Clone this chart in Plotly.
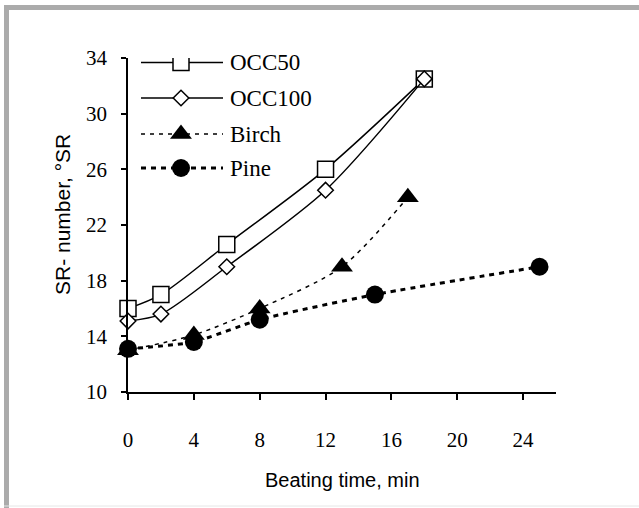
import plotly.graph_objects as go

# ---- data ----
series_names = ["OCC50", "OCC100", "Birch", "Pine"]
occ50_x = [0, 2, 6, 12, 18]
occ50_y = [16.0, 17.0, 20.6, 26.0, 32.5]
occ100_x = [0, 2, 6, 12, 18]
occ100_y = [15.1, 15.6, 19.0, 24.5, 32.5]
birch_x = [0, 4, 8, 13, 17]
birch_y = [13.0, 14.1, 16.0, 19.0, 24.0]
pine_x = [0, 4, 8, 15, 25]
pine_y = [13.1, 13.6, 15.2, 17.0, 19.0]
x_ticks = [0, 4, 8, 12, 16, 20, 24]
y_ticks = [10, 14, 18, 22, 26, 30, 34]

# ---- layout constants (pixels) ----
W, H = 639, 508
L, R, T, B = 128, 556, 58, 392  # plot area edges in px

def px_x(p):
    return (p - L) / (R - L)

def px_y(p):
    return (B - p) / (B - T)

SERIF = "Liberation Serif, Times New Roman, serif"
SANS = "Liberation Sans, Arial, sans-serif"

styles = {
    "OCC50": dict(line=dict(color="black", width=1.5, shape="spline", smoothing=0.8),
                  marker=dict(symbol="square", size=16, color="white",
                              line=dict(color="black", width=1.5))),
    "OCC100": dict(line=dict(color="black", width=1.5, shape="spline", smoothing=0.8),
                   marker=dict(symbol="diamond", size=12, color="white",
                               line=dict(color="black", width=1.5))),
    "Birch": dict(line=dict(color="black", width=1.5, dash="4px,5px", shape="spline", smoothing=0.8),
                  marker=dict(symbol="triangle-up", size=19, color="black")),
    "Pine": dict(line=dict(color="black", width=3, dash="5px,5px", shape="spline", smoothing=0.6),
                 marker=dict(symbol="circle", size=18, color="black")),
}
data = {
    "OCC50": (occ50_x, occ50_y),
    "OCC100": (occ100_x, occ100_y),
    "Birch": (birch_x, birch_y),
    "Pine": (pine_x, pine_y),
}

fig = go.Figure()
for name in ["Birch", "Pine", "OCC50", "OCC100"]:
    xs, ys = data[name]
    fig.add_trace(go.Scatter(x=xs, y=ys, mode="lines+markers", name=name,
                             showlegend=False, cliponaxis=False, **styles[name]))

# ---- manual legend on a pixel-scaled overlay axis ----
leg_rows = [62.5, 98, 134, 168]
leg_x0, leg_xm, leg_x1, leg_tx = 141, 181, 223, 228
annotations = []
for name, yrow in zip(series_names, leg_rows):
    st = styles[name]
    fig.add_trace(go.Scatter(x=[leg_x0, leg_x1], y=[yrow, yrow], mode="lines",
                             line=dict(color="black", width=st["line"]["width"],
                                       dash=st["line"].get("dash", "solid")),
                             xaxis="x2", yaxis="y2", showlegend=False, hoverinfo="skip"))
    fig.add_trace(go.Scatter(x=[leg_xm], y=[yrow], mode="markers", marker=st["marker"],
                             xaxis="x2", yaxis="y2", showlegend=False, hoverinfo="skip"))
    annotations.append(dict(x=leg_tx, y=yrow, xref="x2", yref="y2", text=name,
                            showarrow=False, xanchor="left", yanchor="middle",
                            font=dict(family=SERIF, size=23, color="black")))

# axis titles
annotations.append(dict(x=px_x(342), y=px_y(480), xref="paper", yref="paper",
                        text="Beating time, min", showarrow=False,
                        xanchor="center", yanchor="middle",
                        font=dict(family=SANS, size=20, color="black")))
annotations.append(dict(x=px_x(62), y=px_y(215), xref="paper", yref="paper",
                        text="SR- number, °SR", showarrow=False, textangle=-90,
                        xanchor="center", yanchor="middle",
                        font=dict(family=SANS, size=21, color="black")))

# frame
shapes = [
    dict(type="line", xref="paper", yref="paper", x0=px_x(6.5), x1=px_x(6.5),
         y0=px_y(5), y1=px_y(510), line=dict(color="#ababab", width=5)),
    dict(type="line", xref="paper", yref="paper", x0=px_x(4), x1=px_x(645),
         y0=px_y(7.5), y1=px_y(7.5), line=dict(color="#ababab", width=5)),
    dict(type="line", xref="paper", yref="paper", x0=px_x(4), x1=px_x(645),
         y0=px_y(506), y1=px_y(506), line=dict(color="#e6e6e6", width=1)),
]

fig.update_layout(
    width=W, height=H,
    margin=dict(l=L, r=W - R, t=T, b=H - B, pad=0),
    paper_bgcolor="white", plot_bgcolor="white",
    showlegend=False,
    annotations=annotations, shapes=shapes,
    xaxis=dict(range=[0, 26], tickvals=x_ticks, ticktext=[str(v) for v in x_ticks],
               showgrid=False, zeroline=False, showline=True, linecolor="black",
               linewidth=1.5, ticks="outside", ticklen=6, tickwidth=1.5,
               tickcolor="black", ticklabelstandoff=22,
               tickfont=dict(family=SERIF, size=21, color="black")),
    yaxis=dict(range=[10, 34], tickvals=y_ticks, ticktext=[str(v) for v in y_ticks],
               showgrid=False, zeroline=False, showline=True, linecolor="black",
               linewidth=1.5, ticks="outside", ticklen=5, tickwidth=1.5,
               tickcolor="black", ticklabelstandoff=10,
               tickfont=dict(family=SERIF, size=21, color="black")),
    xaxis2=dict(overlaying="x", range=[L, R], visible=False, anchor="y2"),
    yaxis2=dict(overlaying="y", range=[B, T], visible=False, anchor="x2"),
)

fig.write_html("out.html")
